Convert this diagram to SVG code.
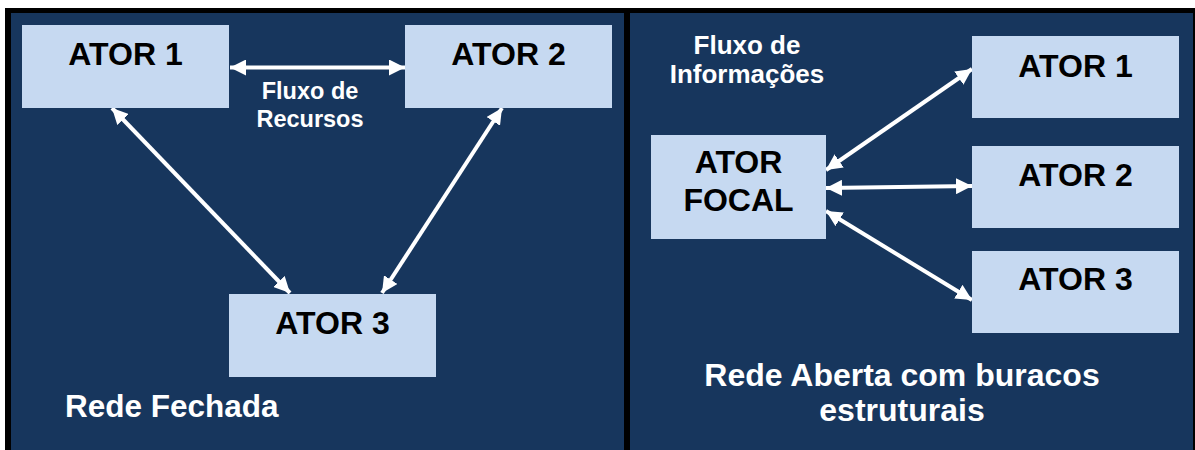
<svg xmlns="http://www.w3.org/2000/svg" width="1195" height="450" viewBox="0 0 1195 450">
<defs>
<style>
.panel{fill:#17365d}
.box{fill:#c6d9f1}
.lbl{font-family:"Liberation Sans",Arial,sans-serif;font-weight:bold;font-size:32px;fill:#000;text-anchor:middle}
.wt{font-family:"Liberation Sans",Arial,sans-serif;font-weight:bold;fill:#fff}
.con{stroke:#fff;stroke-width:4;fill:none;marker-start:url(#ah);marker-end:url(#ah)}
</style>
<marker id="ah" viewBox="0 0 10 10" refX="10" refY="5" markerWidth="4" markerHeight="4" orient="auto-start-reverse" markerUnits="strokeWidth">
<path d="M0,0 L10,5 L0,10 z" fill="#fff"/>
</marker>
</defs>
<rect x="0" y="0" width="1195" height="450" fill="#fff"/>
<rect x="5" y="8" width="1190" height="442" fill="#000"/>
<rect class="panel" x="11" y="13" width="613" height="437"/>
<rect class="panel" x="630" y="13" width="563" height="437"/>

<g id="connectors">
<line class="con" x1="230" y1="67.5" x2="405" y2="67.5"/>
<line class="con" x1="112" y1="108" x2="290" y2="293"/>
<line class="con" x1="502" y1="108" x2="382" y2="293"/>
<line class="con" x1="826" y1="170" x2="972" y2="69"/>
<line class="con" x1="826" y1="188" x2="972" y2="186"/>
<line class="con" x1="826" y1="211" x2="972" y2="300"/>
</g>

<g id="l-ator1"><rect class="box" x="22" y="25" width="207" height="83"/><text class="lbl" x="125.5" y="65">ATOR 1</text></g>
<g id="l-ator2"><rect class="box" x="405" y="25" width="207" height="83"/><text class="lbl" x="508.5" y="65">ATOR 2</text></g>
<g id="l-ator3"><rect class="box" x="229" y="294" width="207" height="83"/><text class="lbl" x="332.5" y="334">ATOR 3</text></g>
<g id="l-fluxo"><text class="wt" font-size="23.5" text-anchor="middle" x="310" y="99">Fluxo de</text><text class="wt" font-size="23.5" text-anchor="middle" x="310" y="127">Recursos</text></g>
<g id="l-title"><text class="wt" font-size="31.5" x="65" y="417">Rede Fechada</text></g>

<g id="r-focal"><rect class="box" x="651" y="135" width="175" height="104"/><text class="lbl" x="738.5" y="173">ATOR</text><text class="lbl" x="738.5" y="211">FOCAL</text></g>
<g id="r-ator1"><rect class="box" x="972" y="36" width="207" height="82"/><text class="lbl" x="1075.5" y="77">ATOR 1</text></g>
<g id="r-ator2"><rect class="box" x="972" y="146" width="207" height="82"/><text class="lbl" x="1075.5" y="186">ATOR 2</text></g>
<g id="r-ator3"><rect class="box" x="972" y="251" width="207" height="82"/><text class="lbl" x="1075.5" y="290">ATOR 3</text></g>
<g id="r-fluxo"><text class="wt" font-size="26" text-anchor="middle" x="747" y="54">Fluxo de</text><text class="wt" font-size="26" text-anchor="middle" x="747" y="83">Informações</text></g>
<g id="r-title"><text class="wt" font-size="32" text-anchor="middle" x="902" y="386">Rede Aberta com buracos</text><text class="wt" font-size="32" text-anchor="middle" x="902" y="421">estruturais</text></g>
</svg>
